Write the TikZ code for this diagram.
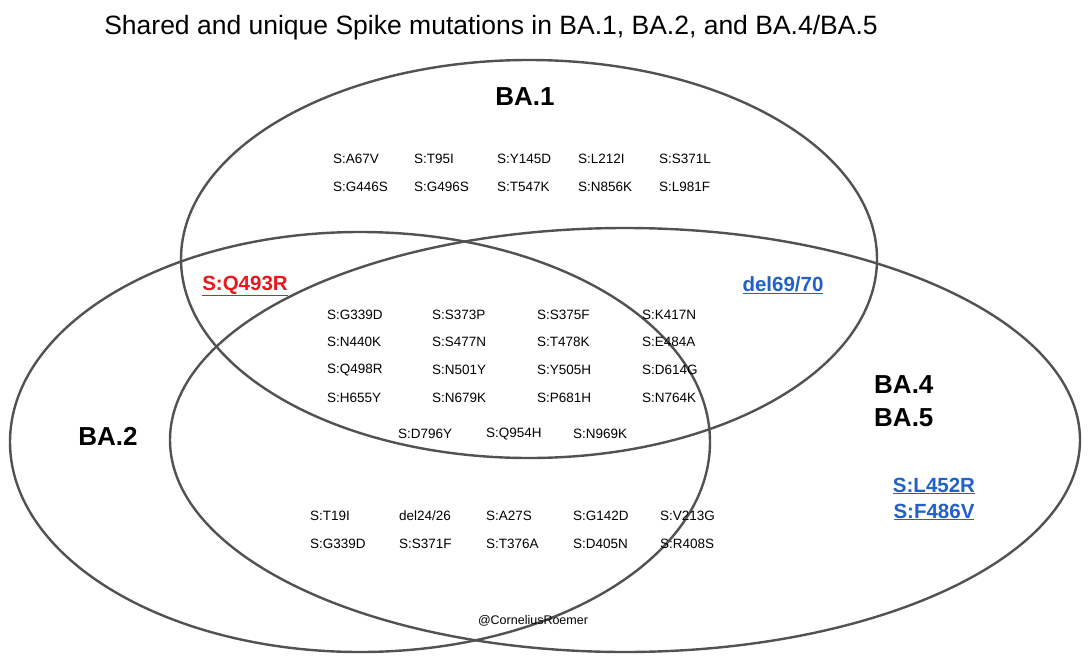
\documentclass[tikz,border=0pt]{standalone}
\usepackage{fontspec}
\setmainfont{Liberation Sans}
\begin{document}
\begin{tikzpicture}[x=1pt,y=-1pt,
  ell/.style={draw=black!68,line width=2.4pt},
  mut/.style={anchor=west,font=\fontsize{13.5}{15}\selectfont,inner sep=0pt},
  big/.style={font=\fontsize{26}{30}\selectfont\bfseries,inner sep=0pt},
  hl/.style={font=\fontsize{20.5}{24}\selectfont\bfseries,inner sep=0pt}]
\definecolor{rd}{HTML}{E8191E}
\definecolor{bl}{HTML}{2262C6}
\useasboundingbox[fill=white] (0,0) rectangle (1090,672);
\draw[ell] (529,259) ellipse [x radius=348,y radius=199];
\draw[ell] (360,442) ellipse [x radius=350,y radius=210];
\draw[ell] (625,440) ellipse [x radius=455,y radius=212];
\node[font=\fontsize{26.5}{30}\selectfont] (title) at (491,28) {Shared and unique Spike mutations in BA.1, BA.2, and BA.4/BA.5};
\node[big] (ba1) at (525,97) {BA.1};
\node[big] (ba2) at (108,436) {BA.2};
\node[big,align=left,anchor=west] (ba45) at (874,401) {BA.4\\[3pt]BA.5};
\node[hl,text=rd] (q493) at (245,286) {\underline{S:Q493R}};
\node[hl,text=bl] (del) at (783,285) {\underline{del69/70}};
\node[hl,text=bl,align=center] (l452) at (934,499) {\underline{S:L452R}\\[2pt]\underline{S:F486V}};
\foreach \t [count=\i] in {S:A67V,S:T95I,S:Y145D,S:L212I,S:S371L}{
  \pgfmathsetmacro\xx{{333,414,497,578,659}[\i-1]}
  \node[mut] (a\i) at (\xx,159) {\t};}
\foreach \t [count=\i] in {S:G446S,S:G496S,S:T547K,S:N856K,S:L981F}{
  \pgfmathsetmacro\xx{{333,414,497,578,659}[\i-1]}
  \node[mut] (b\i) at (\xx,187) {\t};}
\foreach \r/\yy [count=\j] in {{S:G339D,S:S373P,S:S375F,S:K417N}/315,{S:N440K,S:S477N,S:T478K,S:E484A}/342,{S:Q498R,S:N501Y,S:Y505H,S:D614G}/370,{S:H655Y,S:N679K,S:P681H,S:N764K}/398}{
  \foreach \t [count=\i] in \r {
    \pgfmathsetmacro\xx{{327,432,537,642}[\i-1]}
    \node[mut] (c\j\i) at (\xx,\yy) {\t};}}
\node[mut] (d1) at (398,434) {S:D796Y};
\node[mut] (d2) at (486,434) {S:Q954H};
\node[mut] (d3) at (573,434) {S:N969K};
\foreach \t [count=\i] in {S:T19I,del24/26,S:A27S,S:G142D,S:V213G}{
  \pgfmathsetmacro\xx{{310,399,486,573,660}[\i-1]}
  \node[mut] (e\i) at (\xx,516) {\t};}
\foreach \t [count=\i] in {S:G339D,S:S371F,S:T376A,S:D405N,S:R408S}{
  \pgfmathsetmacro\xx{{310,399,486,573,660}[\i-1]}
  \node[mut] (f\i) at (\xx,544) {\t};}
\node[font=\fontsize{12.5}{14}\selectfont] (cr) at (533,621) {@CorneliusRoemer};
\end{tikzpicture}
\end{document}
